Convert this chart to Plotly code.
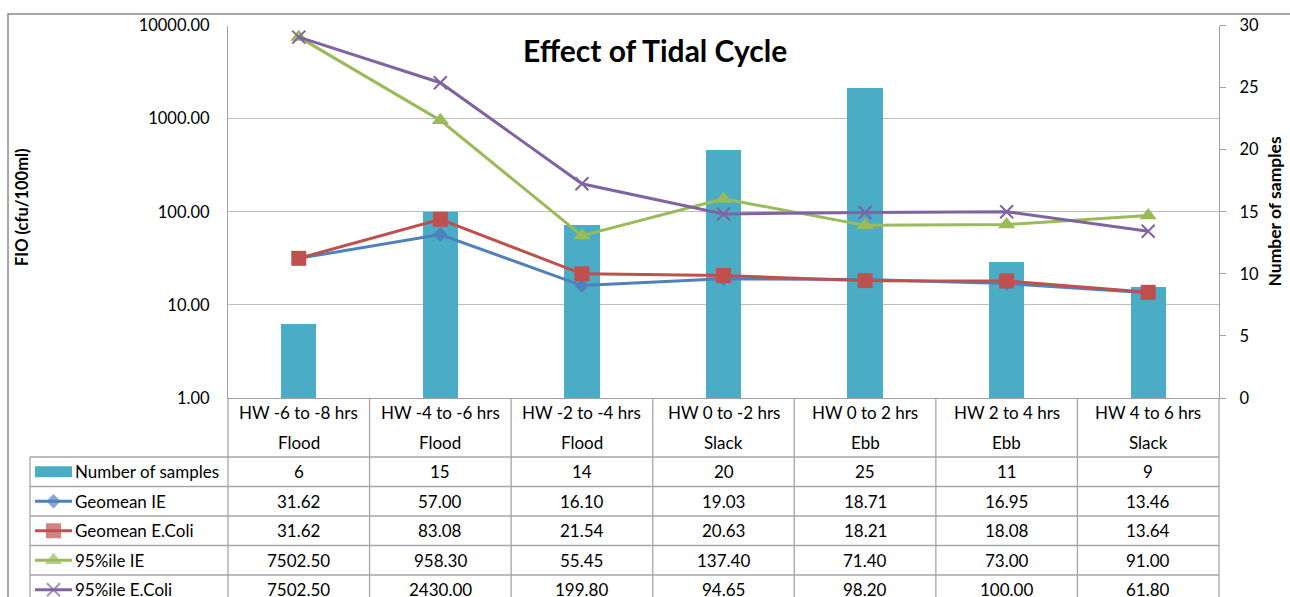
import plotly.graph_objects as go

# ---- data ---------------------------------------------------------------
phases = ["HW -6 to -8 hrs", "HW -4 to -6 hrs", "HW -2 to -4 hrs", "HW 0 to -2 hrs",
          "HW 0 to 2 hrs", "HW 2 to 4 hrs", "HW 4 to 6 hrs"]
states = ["Flood", "Flood", "Flood", "Slack", "Ebb", "Ebb", "Slack"]
n_samples = [6, 15, 14, 20, 25, 11, 9]
geomean_ie = [31.62, 57.00, 16.10, 19.03, 18.71, 16.95, 13.46]
geomean_ecoli = [31.62, 83.08, 21.54, 20.63, 18.21, 18.08, 13.64]
p95_ie = [7502.50, 958.30, 55.45, 137.40, 71.40, 73.00, 91.00]
p95_ecoli = [7502.50, 2430.00, 199.80, 94.65, 98.20, 100.00, 61.80]
fio_ticks = [1, 10, 100, 1000, 10000]
count_ticks = [0, 5, 10, 15, 20, 25, 30]

# ---- styling ------------------------------------------------------------
W, H = 1290, 597
FONT = "Lato"
TXT = "#000000"
GRID = "#BEBEBE"
AXIS = "#A0A0A0"
TABLE_LINE = "#A6A6A6"
BAR_COLOR = "#4BACC6"

line_series = [
    ("Geomean IE", geomean_ie, "#4F81BD", "diamond", 11),
    ("Geomean E.Coli", geomean_ecoli, "#C0504D", "square", 15),
    ("95%ile IE", p95_ie, "#9BBB59", "triangle-up", 15),
    ("95%ile E.Coli", p95_ecoli, "#8064A2", "x-thin", 13),
]

# layout geometry in pixels
PLOT_L, PLOT_R, PLOT_T, PLOT_B = 228, 1219, 25.5, 398
TABLE_L = 30
ROW_H = 29.5
KEY_L, KEY_R, LABEL_X = 35, 72, 74


def fx(p):
    return p / W


def fy(p):
    return 1 - p / H


ncat = len(phases)
cw = (PLOT_R - PLOT_L) / ncat


def col(p):
    """pixel x -> table column coordinate (same scale as categories)"""
    return -0.5 + (p - PLOT_L) / cw


cats = list(range(ncat))
fig = go.Figure()

# bars: number of samples (right axis)
fig.add_trace(go.Bar(
    x=cats, y=n_samples, width=0.25, marker=dict(color=BAR_COLOR, line=dict(width=0)),
    xaxis="x", yaxis="y", name="Number of samples", showlegend=False,
))

# lines: FIO concentrations (left log axis)
for name, vals, color, sym, size in line_series:
    marker = dict(symbol=sym, size=size, color=color, line=dict(width=0))
    if sym == "x-thin":
        marker["line"] = dict(width=2, color=color)
    fig.add_trace(go.Scatter(
        x=cats, y=vals, mode="lines+markers", name=name, showlegend=False,
        line=dict(color=color, width=3), marker=marker,
        xaxis="x", yaxis="y2", cliponaxis=False,
    ))

# ---- data table below the chart ----------------------------------------
n_rows_visible = (H - PLOT_B) / ROW_H
row_vals = [
    ("Number of samples", [f"{v:d}" for v in n_samples]),
] + [(name, [f"{v:.2f}" for v in vals]) for name, vals, *_ in line_series]

annotations = []
shapes = []
tfont = dict(family=FONT, size=17, color=TXT)


def cell(x, y, text, xanchor="center", xref="x2"):
    return dict(x=x, y=y, xref=xref, yref="y3", text=text, showarrow=False,
                xanchor=xanchor, yanchor="middle", font=tfont, borderpad=0)


# header cells (category names)
for i in cats:
    annotations.append(cell(i, 0.5, phases[i]))
    annotations.append(cell(i, 1.5, states[i]))

# data rows
for r, (label, cells) in enumerate(row_vals):
    yc = 2.5 + r
    annotations.append(cell(col(LABEL_X), yc, label, xanchor="left"))
    for i, c in enumerate(cells):
        annotations.append(cell(i, yc, c))

# table grid lines
for k in range(ncat + 1):
    shapes.append(dict(type="line", xref="x2", yref="y3", x0=k - 0.5, x1=k - 0.5,
                       y0=0, y1=8, line=dict(color=TABLE_LINE, width=1.3)))
shapes.append(dict(type="line", xref="x2", yref="y3", x0=col(TABLE_L), x1=col(TABLE_L),
                   y0=2, y1=8, line=dict(color=TABLE_LINE, width=1.3)))
for r in range(2, 8):
    shapes.append(dict(type="line", xref="x2", yref="y3", x0=col(TABLE_L), x1=ncat - 0.5,
                       y0=r, y1=r, line=dict(color=TABLE_LINE, width=1.3)))

# legend keys inside the first table column
shapes.append(dict(type="rect", xref="x2", yref="y3", x0=col(KEY_L), x1=col(KEY_R),
                   y0=2.5 - 0.19, y1=2.5 + 0.19, fillcolor=BAR_COLOR, line=dict(width=0)))
for r, (name, vals, color, sym, size) in enumerate(line_series):
    yc = 3.5 + r
    marker = dict(symbol=sym, size=[0, size, 0], color=color, line=dict(width=0))
    if sym == "x-thin":
        marker["line"] = dict(width=2, color=color)
    fig.add_trace(go.Scatter(
        x=[col(KEY_L), (col(KEY_L) + col(KEY_R)) / 2, col(KEY_R)], y=[yc, yc, yc],
        mode="lines+markers", line=dict(color=color, width=3), marker=marker,
        xaxis="x2", yaxis="y3", showlegend=False, hoverinfo="skip", cliponaxis=False,
    ))

# chart-area border
shapes.append(dict(type="rect", xref="paper", yref="paper", x0=fx(8), y0=fy(14),
                   x1=1.2, y1=-0.2, line=dict(color="#8A8A8A", width=1.5), layer="below"))

# titles
annotations.append(dict(x=fx(655.5), y=fy(50), xref="paper", yref="paper",
                        xanchor="center", yanchor="middle",
                        text="<b>Effect of Tidal Cycle</b>", showarrow=False,
                        font=dict(family=FONT, size=30, color=TXT)))
annotations.append(dict(x=fx(22), y=fy(207), xref="paper", yref="paper",
                        xanchor="center", yanchor="middle",
                        text="<b>FIO (cfu/100ml)</b>", textangle=-90, showarrow=False,
                        font=dict(family=FONT, size=16.5, color=TXT)))
annotations.append(dict(x=fx(1274), y=fy(211.5), xref="paper", yref="paper",
                        xanchor="center", yanchor="middle",
                        text="<b>Number of samples</b>", textangle=-90, showarrow=False,
                        font=dict(family=FONT, size=17.5, color=TXT)))

tick_font = dict(family=FONT, size=16.5, color=TXT)

fig.update_layout(
    width=W, height=H, template="none",
    margin=dict(l=0, r=0, t=0, b=0, pad=0),
    paper_bgcolor="white", plot_bgcolor="rgba(0,0,0,0)",
    showlegend=False, bargap=0,
    xaxis=dict(domain=[fx(PLOT_L), fx(PLOT_R)], range=[-0.5, ncat - 0.5], anchor="y",
               showline=True, linecolor=AXIS, linewidth=1.3, showgrid=False,
               zeroline=False, ticks="", showticklabels=False, fixedrange=True),
    yaxis=dict(domain=[fy(PLOT_B), fy(PLOT_T)], range=[0, 30], side="right", anchor="x",
               tickvals=count_ticks, ticks="outside", ticklen=6, tickcolor=AXIS,
               tickwidth=1.3, showline=True, linecolor=AXIS, linewidth=1.3,
               showgrid=False, zeroline=False, tickfont=tick_font, ticklabelstandoff=10),
    yaxis2=dict(type="log", range=[0, 4], overlaying="y", side="left", anchor="x",
                tickvals=fio_ticks, ticktext=[f"{v:.2f}" for v in fio_ticks],
                showgrid=True, gridcolor=GRID, gridwidth=1.3, showline=True,
                linecolor=AXIS, linewidth=1.3, ticks="", zeroline=False,
                tickfont=tick_font, ticklabelstandoff=14),
    xaxis2=dict(domain=[fx(20), fx(1232)], range=[col(20), col(1232)], anchor="y3",
                visible=False),
    yaxis3=dict(domain=[0, fy(PLOT_B)], range=[n_rows_visible, 0], anchor="x2",
                visible=False),
    annotations=annotations,
    shapes=shapes,
)

fig.write_html("out.html")
